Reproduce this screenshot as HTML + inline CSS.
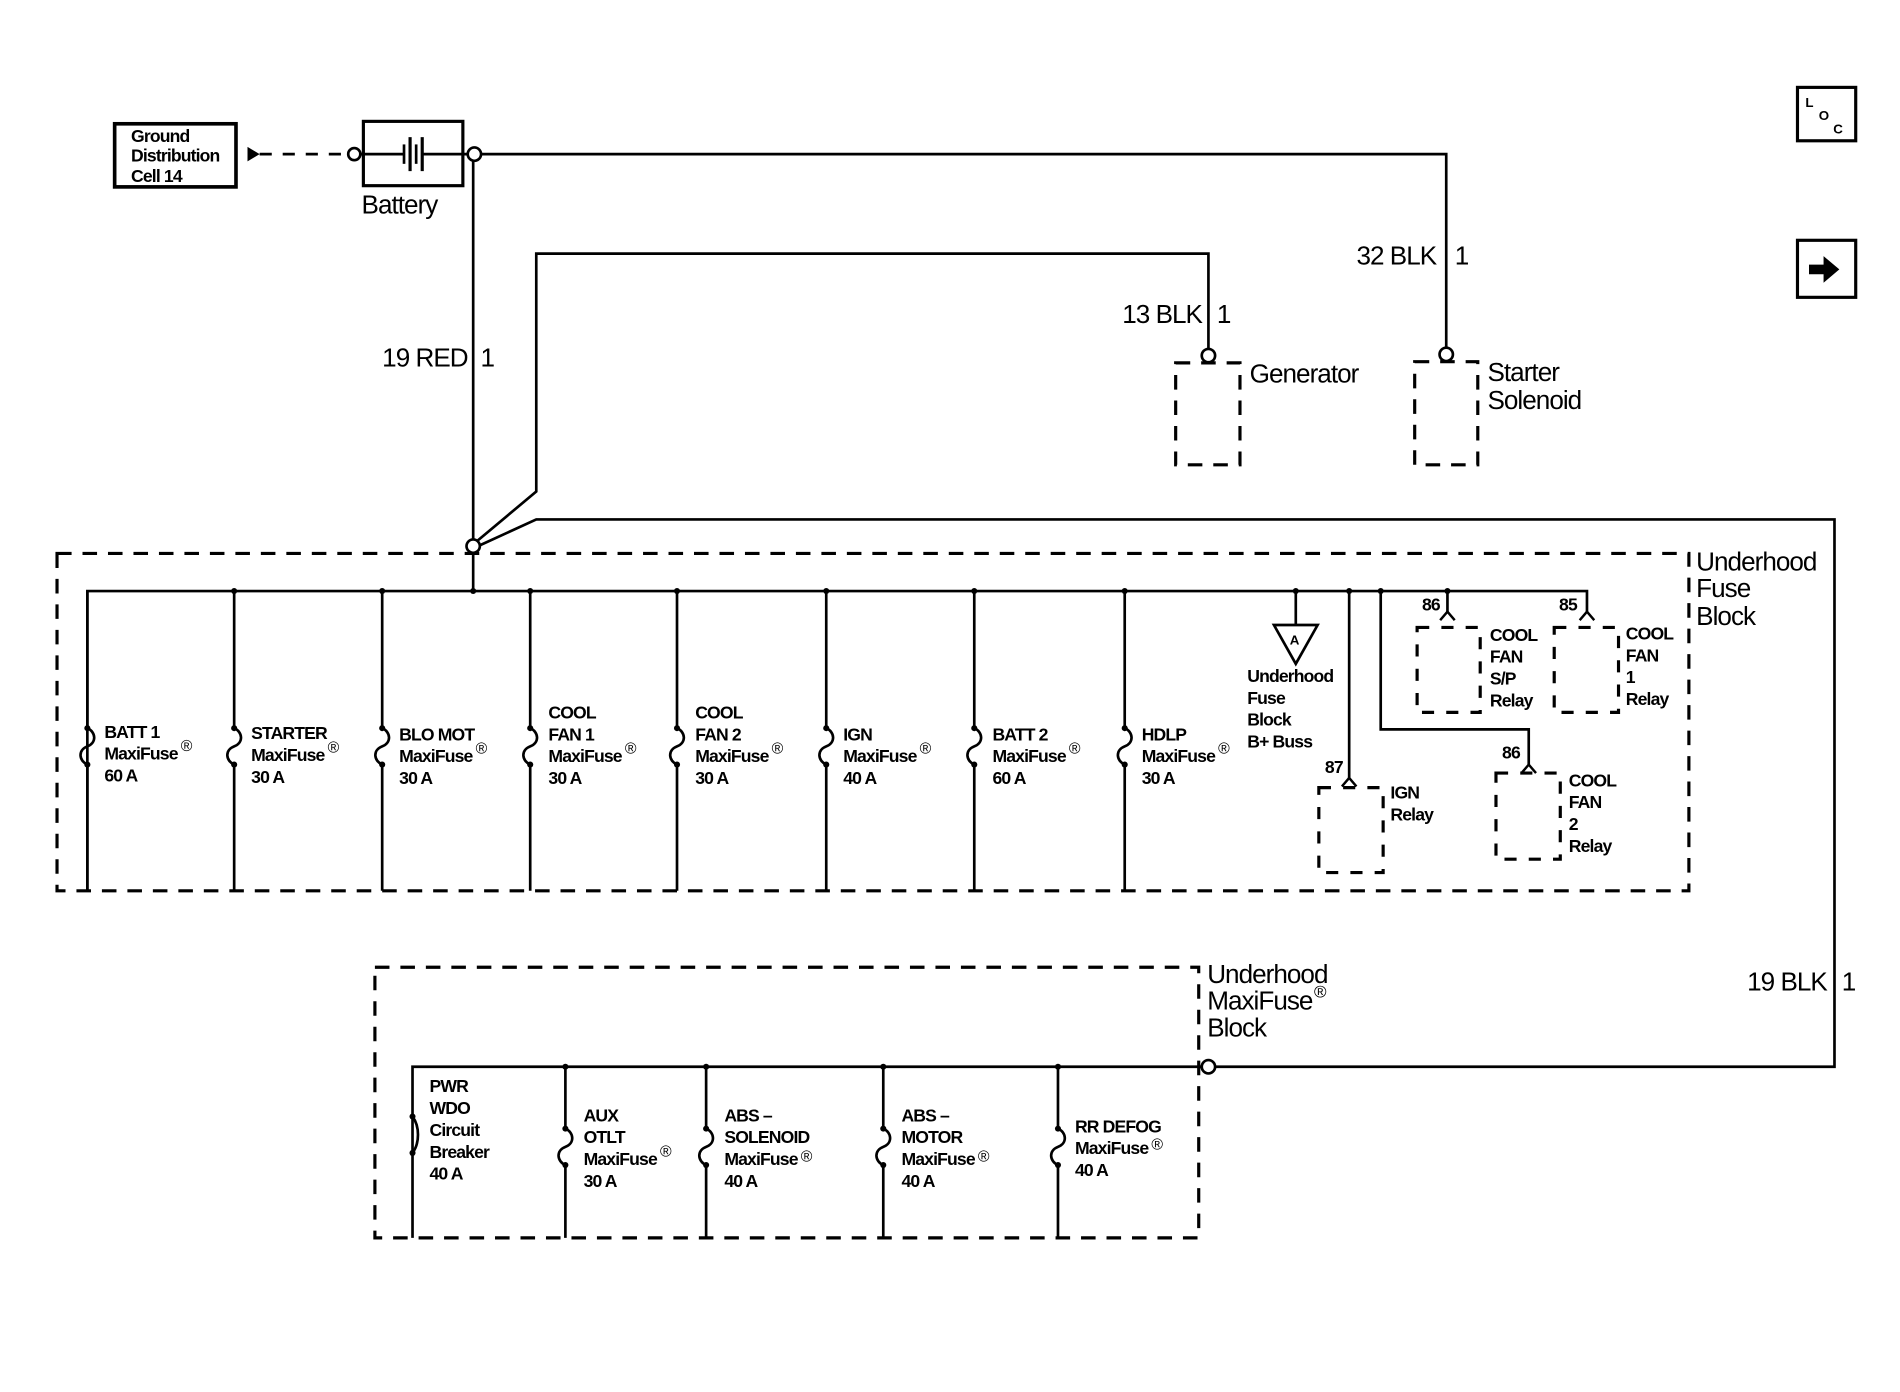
<!DOCTYPE html>
<html><head><meta charset="utf-8"><style>
html,body{margin:0;padding:0;background:#fff;}
svg{display:block;}
text{font-family:"Liberation Sans",sans-serif;fill:#000;}
.s{font-size:14.5px;font-weight:bold;letter-spacing:-0.7px;}
.m{font-size:21.5px;letter-spacing:-0.8px;}
.r{font-size:13px;font-weight:normal;}
</style></head><body>
<svg width="1900" height="1392" viewBox="0 0 1566 1147" preserveAspectRatio="none" xmlns="http://www.w3.org/2000/svg">
<g fill="none" stroke="#000" stroke-width="2.2">
<rect x="94.5" y="102" width="100" height="52" stroke-width="3"/>
<line x1="214" y1="127" x2="287" y2="127" stroke-dasharray="10,9"/>
<rect x="299.5" y="100" width="82" height="53" stroke-width="2.6"/>
<line x1="297" y1="127" x2="333" y2="127"/>
<line x1="333" y1="119" x2="333" y2="135"/>
<line x1="338" y1="113" x2="338" y2="141" stroke-width="2.6"/>
<line x1="343" y1="119" x2="343" y2="135"/>
<line x1="348" y1="113" x2="348" y2="141" stroke-width="2.6"/>
<line x1="348" y1="127" x2="386" y2="127"/>
<circle cx="292" cy="127" r="5" fill="#fff"/>
<circle cx="391" cy="127" r="5.5" fill="#fff"/>
<polyline points="396,127 1192,127 1192,287"/>
<circle cx="1192" cy="292" r="5.5" fill="#fff"/>
<rect x="1166" y="298" width="52" height="85" stroke-dasharray="12,9" stroke-width="2.6"/>
<line x1="390" y1="132" x2="390" y2="445"/>
<polyline points="393,446 442,405 442,209 996,209 996,288"/>
<circle cx="996" cy="293" r="5.5" fill="#fff"/>
<rect x="969" y="299" width="53" height="84" stroke-dasharray="12,9" stroke-width="2.6"/>
<polyline points="394,450 442,428 1512,428 1512,879 1001,879"/>
<circle cx="390" cy="450" r="5.5" fill="#fff"/>
<circle cx="996" cy="879" r="5.5" fill="#fff"/>
<rect x="47" y="456" width="1345" height="278" stroke-dasharray="12,9" stroke-width="2.6"/>
<line x1="390" y1="455" x2="390" y2="487"/>
<polyline points="72,734 72,487 1308,487 1308,505"/>
<line x1="1068" y1="487" x2="1068" y2="515"/>
<polygon points="1050,515 1086,515 1068,547"/>
<line x1="1112" y1="487" x2="1112" y2="642"/>
<polyline points="1106,648 1112,641 1118,648" stroke-width="2"/>
<rect x="1087" y="649" width="53" height="70" stroke-dasharray="10,10" stroke-width="2.6"/>
<polyline points="1138,487 1138,601 1260,601 1260,631"/>
<polyline points="1254,637 1260,630 1266,637" stroke-width="2"/>
<rect x="1233" y="637" width="53" height="71" stroke-dasharray="10,10" stroke-width="2.6"/>
<line x1="1193" y1="487" x2="1193" y2="505"/>
<polyline points="1187,511 1193,504 1199,511" stroke-width="2"/>
<rect x="1168" y="517" width="52" height="70" stroke-dasharray="10,10" stroke-width="2.6"/>
<polyline points="1302,511 1308,504 1314,511" stroke-width="2"/>
<rect x="1281" y="517" width="53" height="70" stroke-dasharray="10,10" stroke-width="2.6"/>
<rect x="309" y="797" width="679" height="223" stroke-dasharray="12,9" stroke-width="2.6"/>
<polyline points="340,1020 340,879 991,879"/>
<rect x="1481.5" y="72" width="48" height="44" stroke-width="2.6"/>
<rect x="1481.5" y="198" width="48" height="47" stroke-width="2.6"/>
</g>
<polygon points="204,121 214,127 204,133"/>
<polygon points="1491,218 1503,218 1503,211 1516,222 1503,233 1503,226 1491,226"/>
<g fill="none" stroke="#000" stroke-width="2.2">
<path d="M72,487 V600 c7,3 8,12 0,15 c-8,3 -7,12 0,15 V734"/>
<path d="M193,487 V600 c7,3 8,12 0,15 c-8,3 -7,12 0,15 V734"/>
<path d="M315,487 V600 c7,3 8,12 0,15 c-8,3 -7,12 0,15 V734"/>
<path d="M437,487 V600 c7,3 8,12 0,15 c-8,3 -7,12 0,15 V734"/>
<path d="M558,487 V600 c7,3 8,12 0,15 c-8,3 -7,12 0,15 V734"/>
<path d="M681,487 V600 c7,3 8,12 0,15 c-8,3 -7,12 0,15 V734"/>
<path d="M803,487 V600 c7,3 8,12 0,15 c-8,3 -7,12 0,15 V734"/>
<path d="M927,487 V600 c7,3 8,12 0,15 c-8,3 -7,12 0,15 V734"/>
<path d="M340,920 c6,8 6,22 0,30"/>
<path d="M466,879 V930 c7,3 8,12 0,15 c-8,3 -7,12 0,15 V1020"/>
<path d="M582,879 V930 c7,3 8,12 0,15 c-8,3 -7,12 0,15 V1020"/>
<path d="M728,879 V930 c7,3 8,12 0,15 c-8,3 -7,12 0,15 V1020"/>
<path d="M872,879 V930 c7,3 8,12 0,15 c-8,3 -7,12 0,15 V1020"/>
</g>
<g fill="#000">
<circle cx="193" cy="487" r="2.5"/><circle cx="315" cy="487" r="2.5"/><circle cx="390" cy="487" r="2.5"/><circle cx="437" cy="487" r="2.5"/><circle cx="558" cy="487" r="2.5"/><circle cx="681" cy="487" r="2.5"/><circle cx="803" cy="487" r="2.5"/><circle cx="927" cy="487" r="2.5"/><circle cx="1068" cy="487" r="2.5"/><circle cx="1112" cy="487" r="2.5"/><circle cx="1138" cy="487" r="2.5"/><circle cx="1193" cy="487" r="2.5"/>
<circle cx="466" cy="879" r="2.5"/><circle cx="582" cy="879" r="2.5"/><circle cx="728" cy="879" r="2.5"/><circle cx="872" cy="879" r="2.5"/>
<circle cx="72" cy="600" r="2.5"/><circle cx="72" cy="630" r="2.5"/>
<circle cx="193" cy="600" r="2.5"/><circle cx="193" cy="630" r="2.5"/>
<circle cx="315" cy="600" r="2.5"/><circle cx="315" cy="630" r="2.5"/>
<circle cx="437" cy="600" r="2.5"/><circle cx="437" cy="630" r="2.5"/>
<circle cx="558" cy="600" r="2.5"/><circle cx="558" cy="630" r="2.5"/>
<circle cx="681" cy="600" r="2.5"/><circle cx="681" cy="630" r="2.5"/>
<circle cx="803" cy="600" r="2.5"/><circle cx="803" cy="630" r="2.5"/>
<circle cx="927" cy="600" r="2.5"/><circle cx="927" cy="630" r="2.5"/>
<circle cx="340" cy="920" r="2.5"/><circle cx="340" cy="950" r="2.5"/>
<circle cx="466" cy="930" r="2.5"/><circle cx="466" cy="960" r="2.5"/>
<circle cx="582" cy="930" r="2.5"/><circle cx="582" cy="960" r="2.5"/>
<circle cx="728" cy="930" r="2.5"/><circle cx="728" cy="960" r="2.5"/>
<circle cx="872" cy="930" r="2.5"/><circle cx="872" cy="960" r="2.5"/>
</g>
<g class="s">
<text x="108" y="117">Ground</text><text x="108" y="133">Distribution</text><text x="108" y="150">Cell 14</text>
<text x="86" y="608">BATT 1</text><text x="86" y="626">MaxiFuse</text><text x="149" y="619" class="r">®</text><text x="86" y="644">60 A</text>
<text x="207" y="609">STARTER</text><text x="207" y="627">MaxiFuse</text><text x="270" y="620" class="r">®</text><text x="207" y="645">30 A</text>
<text x="329" y="610">BLO MOT</text><text x="329" y="628">MaxiFuse</text><text x="392" y="621" class="r">®</text><text x="329" y="646">30 A</text>
<text x="452" y="592">COOL</text><text x="452" y="610">FAN 1</text><text x="452" y="628">MaxiFuse</text><text x="515" y="621" class="r">®</text><text x="452" y="646">30 A</text>
<text x="573" y="592">COOL</text><text x="573" y="610">FAN 2</text><text x="573" y="628">MaxiFuse</text><text x="636" y="621" class="r">®</text><text x="573" y="646">30 A</text>
<text x="695" y="610">IGN</text><text x="695" y="628">MaxiFuse</text><text x="758" y="621" class="r">®</text><text x="695" y="646">40 A</text>
<text x="818" y="610">BATT 2</text><text x="818" y="628">MaxiFuse</text><text x="881" y="621" class="r">®</text><text x="818" y="646">60 A</text>
<text x="941" y="610">HDLP</text><text x="941" y="628">MaxiFuse</text><text x="1004" y="621" class="r">®</text><text x="941" y="646">30 A</text>
<text x="1063" y="531" style="font-size:11px">A</text>
<text x="1028" y="562">Underhood</text><text x="1028" y="580">Fuse</text><text x="1028" y="598">Block</text><text x="1028" y="616">B+ Buss</text>
<text x="1172" y="503">86</text><text x="1285" y="503">85</text><text x="1092" y="637">87</text><text x="1238" y="625">86</text>
<text x="1228" y="528">COOL</text><text x="1228" y="546">FAN</text><text x="1228" y="564">S/P</text><text x="1228" y="582">Relay</text>
<text x="1340" y="527">COOL</text><text x="1340" y="545">FAN</text><text x="1340" y="563">1</text><text x="1340" y="581">Relay</text>
<text x="1146" y="658">IGN</text><text x="1146" y="676">Relay</text>
<text x="1293" y="648">COOL</text><text x="1293" y="666">FAN</text><text x="1293" y="684">2</text><text x="1293" y="702">Relay</text>
<text x="354" y="900">PWR</text><text x="354" y="918">WDO</text><text x="354" y="936">Circuit</text><text x="354" y="954">Breaker</text><text x="354" y="972">40 A</text>
<text x="481" y="924">AUX</text><text x="481" y="942">OTLT</text><text x="481" y="960">MaxiFuse</text><text x="544" y="953" class="r">®</text><text x="481" y="978">30 A</text>
<text x="597" y="924">ABS –</text><text x="597" y="942">SOLENOID</text><text x="597" y="960">MaxiFuse</text><text x="660" y="957" class="r">®</text><text x="597" y="978">40 A</text>
<text x="743" y="924">ABS –</text><text x="743" y="942">MOTOR</text><text x="743" y="960">MaxiFuse</text><text x="806" y="957" class="r">®</text><text x="743" y="978">40 A</text>
<text x="886" y="933">RR DEFOG</text><text x="886" y="951">MaxiFuse</text><text x="949" y="947" class="r">®</text><text x="886" y="969">40 A</text>
</g>
<g class="m">
<text x="298" y="176">Battery</text>
<text x="315" y="302">19 RED</text><text x="396" y="302">1</text>
<text x="925" y="266">13 BLK</text><text x="1003" y="266">1</text>
<text x="1118" y="218">32 BLK</text><text x="1199" y="218">1</text>
<text x="1030" y="315">Generator</text>
<text x="1226" y="314">Starter</text><text x="1226" y="337">Solenoid</text>
<text x="1398" y="470">Underhood</text><text x="1398" y="492">Fuse</text><text x="1398" y="515">Block</text>
<text x="1440" y="816">19 BLK</text><text x="1518" y="816">1</text>
<text x="995" y="810">Underhood</text><text x="995" y="832">MaxiFuse</text><text x="1083" y="822" style="font-size:14px">®</text><text x="995" y="854">Block</text>
</g>
<g style="font-size:11px;font-weight:bold">
<text x="1488" y="88">L</text><text x="1499" y="99">O</text><text x="1511" y="110">C</text>
</g>
</svg>
</body></html>
